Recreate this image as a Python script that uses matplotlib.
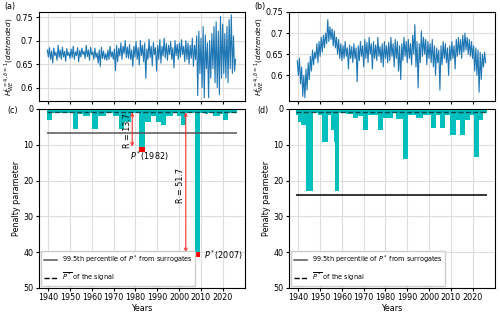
import numpy as np
import matplotlib.pyplot as plt
from matplotlib.lines import Line2D

# ---------------------------------
# data
# ---------------------------------

# (a) detrended H, half-year steps 1939.5 .. 2026
h_a = [0.68, 0.665,
       0.685, 0.66, 0.678, 0.652, 0.684, 0.668, 0.675, 0.658, 0.69, 0.664,
       0.68, 0.66, 0.686, 0.665, 0.677, 0.656, 0.683, 0.668, 0.675, 0.662,
       0.682, 0.664, 0.688, 0.66, 0.676, 0.668, 0.685, 0.655, 0.679, 0.665,
       0.684, 0.67, 0.677, 0.662, 0.69, 0.666, 0.68, 0.658, 0.686, 0.67,
       0.676, 0.66, 0.684, 0.664, 0.674, 0.652, 0.68, 0.645, 0.686, 0.662,
       0.678, 0.66, 0.672, 0.658, 0.68, 0.66, 0.688, 0.665, 0.676, 0.66,
       0.682, 0.636, 0.69, 0.655, 0.684, 0.667, 0.695, 0.66, 0.688, 0.672,
       0.7, 0.664, 0.686, 0.662, 0.692, 0.66, 0.68, 0.645, 0.688, 0.665,
       0.698, 0.66, 0.685, 0.648, 0.7, 0.668, 0.69, 0.655, 0.695, 0.62,
       0.682, 0.66, 0.703, 0.664, 0.688, 0.646, 0.696, 0.67, 0.685, 0.635,
       0.69, 0.66, 0.702, 0.652, 0.688, 0.667, 0.705, 0.663, 0.694, 0.658,
       0.69, 0.67, 0.698, 0.66, 0.685, 0.642, 0.7, 0.668, 0.692, 0.66,
       0.695, 0.665, 0.702, 0.67, 0.688, 0.655, 0.7, 0.66, 0.695, 0.65,
       0.69, 0.662, 0.705, 0.645, 0.69, 0.66, 0.71, 0.583, 0.72, 0.63,
       0.705, 0.6, 0.73, 0.578, 0.712, 0.64, 0.695, 0.578, 0.7, 0.62,
       0.715, 0.64, 0.73, 0.61, 0.74, 0.6, 0.72, 0.585, 0.752, 0.62,
       0.735, 0.63, 0.715, 0.62, 0.73, 0.61, 0.745, 0.64, 0.755, 0.63,
       0.71, 0.635, 0.66]

# (b)
h_b = [0.635, 0.60, 0.64, 0.58,
       0.62, 0.55, 0.60, 0.547, 0.615, 0.565, 0.63, 0.59,
       0.645, 0.61, 0.66, 0.625, 0.655, 0.64, 0.675, 0.63, 0.68, 0.645,
       0.69, 0.655, 0.695, 0.665, 0.70, 0.675, 0.732, 0.68, 0.715, 0.685,
       0.71, 0.67, 0.705, 0.665, 0.69, 0.65, 0.685, 0.64, 0.675, 0.635,
       0.67, 0.64, 0.68, 0.645, 0.665, 0.615, 0.672, 0.64, 0.668, 0.63,
       0.675, 0.64, 0.665, 0.585, 0.67, 0.635, 0.68, 0.645, 0.67, 0.62,
       0.685, 0.64, 0.678, 0.63, 0.69, 0.65, 0.675, 0.615, 0.68, 0.64,
       0.672, 0.635, 0.69, 0.645, 0.668, 0.63, 0.675, 0.62, 0.68, 0.64,
       0.67, 0.63, 0.678, 0.635, 0.69, 0.645, 0.675, 0.62, 0.685, 0.64,
       0.68, 0.61, 0.67, 0.59, 0.675, 0.635, 0.69, 0.645, 0.68, 0.63,
       0.685, 0.64, 0.675, 0.625, 0.695, 0.65, 0.72, 0.62, 0.68, 0.57,
       0.675, 0.63, 0.705, 0.645, 0.69, 0.65, 0.685, 0.625, 0.68, 0.64,
       0.675, 0.63, 0.685, 0.62, 0.67, 0.60, 0.665, 0.63, 0.66, 0.565,
       0.67, 0.625, 0.68, 0.64, 0.675, 0.63, 0.665, 0.60, 0.67, 0.635,
       0.68, 0.64, 0.67, 0.615, 0.685, 0.645, 0.69, 0.65, 0.685, 0.64,
       0.695, 0.655, 0.70, 0.66, 0.69, 0.65, 0.685, 0.645, 0.68, 0.64,
       0.67, 0.61, 0.665, 0.60, 0.66, 0.56, 0.655, 0.59, 0.65, 0.62,
       0.655, 0.63]

# (c) penalty parameter per segment (segment edges in years)
edges_c = [1939.2, 1941.5, 1951.1, 1953.8, 1955.7, 1959.1, 1960.0, 1962.8,
           1966.5, 1969.5, 1972.3, 1974.9, 1978.0, 1981.8, 1984.5, 1987.2,
           1989.5, 1991.8, 1994.2, 1997.2, 1999.1, 2001.1, 2003.4, 2007.2,
           2009.5, 2011.8, 2013.4, 2015.7, 2018.8, 2020.0, 2022.6, 2026.8]
pen_c = [3.1, 1.2, 5.7, 1.5, 2.0, 1.2, 5.7, 2.0, 1.2, 2.0, 5.7, 3.6, 1.2,
         10.5, 3.5, 2.0, 3.6, 4.6, 2.0, 1.2, 2.0, 4.6, 1.2, 40.0, 1.2, 1.5,
         1.2, 2.0, 1.5, 3.0, 1.2]
surr_c = 6.8
mean_c = 0.95

# (d)
edges_d = [1938.8, 1940.0, 1941.1, 1943.7, 1946.5, 1949.2, 1950.8, 1953.4,
           1954.9, 1956.5, 1956.9, 1958.8, 1961.8, 1964.9, 1967.2, 1969.8,
           1972.0, 1976.5, 1978.8, 1983.4, 1984.9, 1988.0, 1990.3, 1994.2,
           1997.2, 2001.1, 2003.4, 2004.9, 2007.2, 2009.5, 2012.3, 2014.2,
           2016.5, 2018.8, 2020.6, 2023.1, 2024.9, 2026.5]
pen_d = [1.7, 3.6, 4.6, 23.0, 1.2, 1.7, 9.3, 1.7, 5.8, 9.2, 23.0, 1.2, 1.5,
         2.5, 2.0, 5.8, 1.7, 5.8, 2.5, 1.2, 2.7, 14.0, 1.7, 2.5, 1.7, 5.2,
         1.7, 5.2, 1.7, 7.2, 3.0, 7.2, 3.0, 1.7, 13.3, 3.0, 1.2]
surr_d = 24.0
mean_d = 0.95

# highlighted change points: year, bar left, bar width, P*, R, arrow x, text y
peaks = [(1982, 1981.8, 2.7, 10.5, 13.7, 1978.5, 6.0),
         (2007, 2007.2, 2.3, 40.0, 51.7, 2003.1, 21.5)]

years_ticks = [1940, 1950, 1960, 1970, 1980, 1990, 2000, 2010, 2020]

# ---------------------------------
# plotting
# ---------------------------------

fs = 5.8
plt.rcParams['font.size'] = fs
plt.rcParams['xtick.major.pad'] = 1.5
plt.rcParams['ytick.major.pad'] = 1.5
plt.rcParams['xtick.major.size'] = 2.5
plt.rcParams['ytick.major.size'] = 2.5

fig = plt.figure(figsize=(5, 3.15), dpi=100)
ax_a = fig.add_axes([0.078, 0.679, 0.412, 0.283])
ax_b = fig.add_axes([0.578, 0.679, 0.412, 0.283])
ax_c = fig.add_axes([0.078, 0.086, 0.412, 0.568])
ax_d = fig.add_axes([0.578, 0.086, 0.412, 0.568])

ylab = r'$H^{L=4,\delta=1}_{WE}(detrended)$'
for ax, h in [(ax_a, h_a), (ax_b, h_b)]:
  t = np.linspace(1939.5, 2026.0, len(h))
  ax.plot(t, h, color='#1f77b4', lw=0.8)
  ax.set_xlim(1935.7, 2030.3)
  ax.set_xticks(years_ticks)
  ax.set_xticklabels([])
  ax.set_yticks([0.6, 0.65, 0.7, 0.75])
  ax.set_yticklabels(['0.6', '0.65', '0.7', '0.75'])
  ax.set_ylabel(ylab, fontsize=5.2, labelpad=0)
  ax.grid(color='#dddddd', lw=0.8)
  ax.set_axisbelow(True)
ax_a.set_ylim(0.571, 0.761)
ax_b.set_ylim(0.539, 0.75)

for ax, edges, pen, surr, mean, lc in [(ax_c, edges_c, pen_c, surr_c, mean_c, '#555555'),
                                       (ax_d, edges_d, pen_d, surr_d, mean_d, 'k')]:
  left = edges[:-1]
  widths = np.diff(edges)
  ax.bar(left, pen, width=widths, align='edge', color='c', lw=0)
  ax.hlines(surr, edges[0], edges[-1], color=lc, lw=1.1)
  ax.hlines(mean, edges[0], edges[-1], color='k', lw=1, ls='--', alpha=0.6)
  ax.set_xlim(1935.7, 2030.3)
  ax.set_ylim(50, 0)
  ax.set_xticks(years_ticks)
  ax.set_yticks([0, 10, 20, 30, 40, 50])
  ax.set_xlabel('Years', fontsize=fs, labelpad=1)
  ax.set_ylabel('Penalty parameter', fontsize=fs, labelpad=2)
  ax.grid(color='#dddddd', lw=0.8)
  ax.set_axisbelow(True)
  handles = [Line2D([], [], color='#555555', lw=1.1),
             Line2D([], [], color='k', lw=1, ls='--')]
  ax.legend(handles, [r'99.5th percentile of $P^*$ from surrogates',
                      r'$\overline{P^*}$ of the signal'],
            loc='lower left', fontsize=4.7, handlelength=2.0,
            borderaxespad=0.3, labelspacing=0.7,
            framealpha=1, edgecolor='#cccccc', fancybox=True)

for yr, x0, w, p, r, xa, ty in peaks:
  ax_c.bar(x0, 1.5, bottom=p, width=w, align='edge', color='red', lw=0)
  ax_c.annotate('', xy=(xa, p), xytext=(xa, mean_c),
                arrowprops=dict(arrowstyle='<->', color='#ff3030', lw=0.8,
                                mutation_scale=5, shrinkA=0, shrinkB=0))
  ax_c.text(xa - 2.3, ty, 'R = %.1f' % r,
            rotation=90, ha='center', va='center', fontsize=fs)
ax_c.text(1977.5, 13.2, r'$P^*$(1982)', ha='left', va='center', fontsize=fs)
ax_c.text(2011.5, 40.8, r'$P^*$(2007)', ha='left', va='center', fontsize=fs)

fig.text(0.008, 0.995, '(a)', ha='left', va='top', fontsize=fs)
fig.text(0.508, 0.995, '(b)', ha='left', va='top', fontsize=fs)
fig.text(0.014, 0.665, '(c)', ha='left', va='top', fontsize=fs)
fig.text(0.514, 0.665, '(d)', ha='left', va='top', fontsize=fs)

plt.savefig('out.png', dpi=100)
